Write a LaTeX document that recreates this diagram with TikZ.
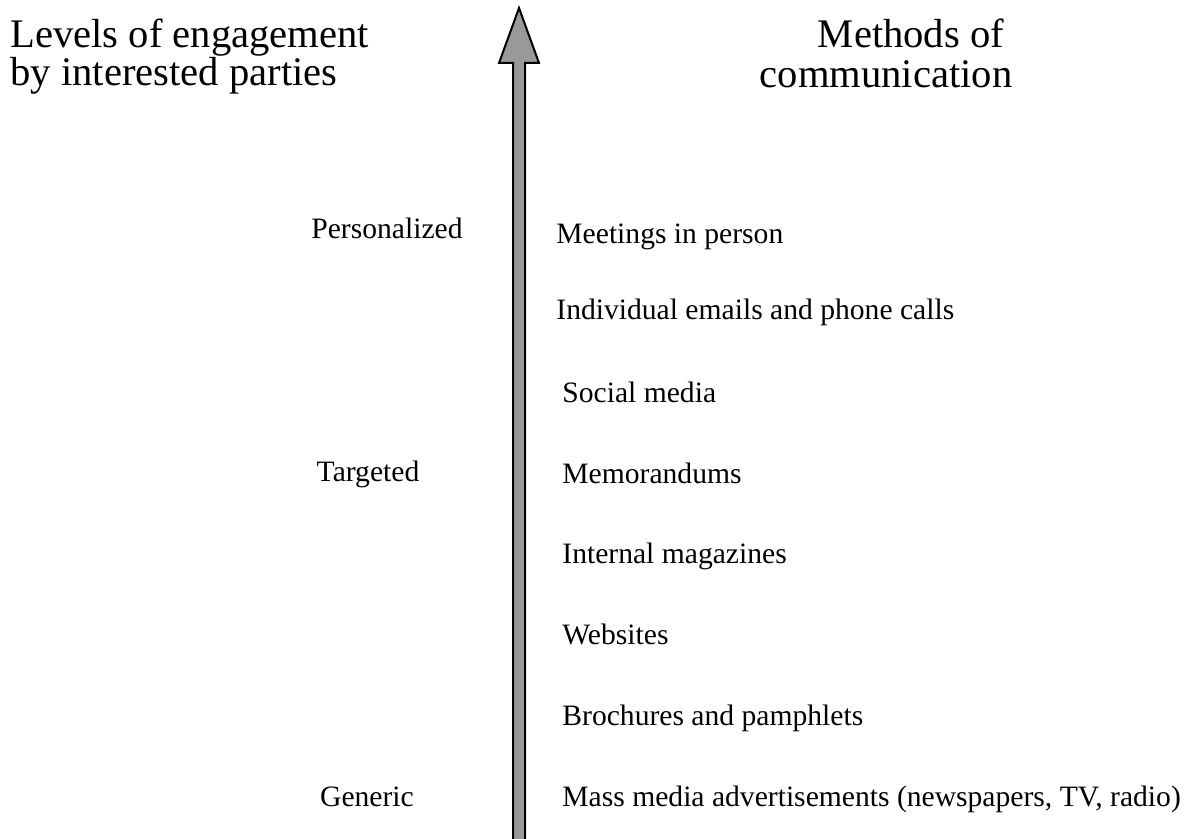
\documentclass[tikz,border=0pt]{standalone}
\usepackage{fontspec}
\setmainfont{Liberation Serif}
\definecolor{arrowgray}{HTML}{999999}
\tikzset{
  heading/.style={font=\fontsize{20.3}{18}\selectfont, inner sep=0pt},
  level/.style={font=\fontsize{14.8}{18}\selectfont, inner sep=0pt, anchor=base},
  method/.style={font=\fontsize{14.8}{18}\selectfont, inner sep=0pt, anchor=base west},
}

\begin{document}
\begin{tikzpicture}[x=0.5pt,y=-0.5pt]
  \useasboundingbox (0,0) rectangle (1192,839);
  % the axis arrow
  \filldraw[fill=arrowgray, draw=black, line width=1pt, line join=miter]
    (513,850) -- (513,63) -- (499,63) -- (519,8) -- (539,63) -- (525,63) -- (525,850);
  % headings
  \node[heading, anchor=base west, align=left] (levelhead) at (10,86)
    {Levels of engagement\\by interested parties};
  \node[heading, font=\fontsize{20.3}{20}\selectfont, anchor=base, align=center] (methodhead) at (886,88)
    {\hspace*{25pt}Methods of\\communication};
  % levels
  \node[level] (personal) at (387,239) {Personalized};
  \node[level] (targeted) at (368,481) {Targeted};
  \node[level] (generic)  at (367,806) {Generic};
  % methods
  \node[method] (meetings)  at (556,244) {Meetings in person};
  \node[method] (emails)    at (556,320) {Individual emails and phone calls};
  \node[method] (social)    at (562,402) {Social media};
  \node[method] (memos)     at (562,483) {Memorandums};
  \node[method] (magazines) at (562,563) {Internal magazines};
  \node[method] (websites)  at (562,644) {Websites};
  \node[method] (brochures) at (562,725) {Brochures and pamphlets};
  \node[method] (massmedia) at (562,806) {Mass media advertisements (newspapers, TV, radio)};
\end{tikzpicture}
\end{document}
